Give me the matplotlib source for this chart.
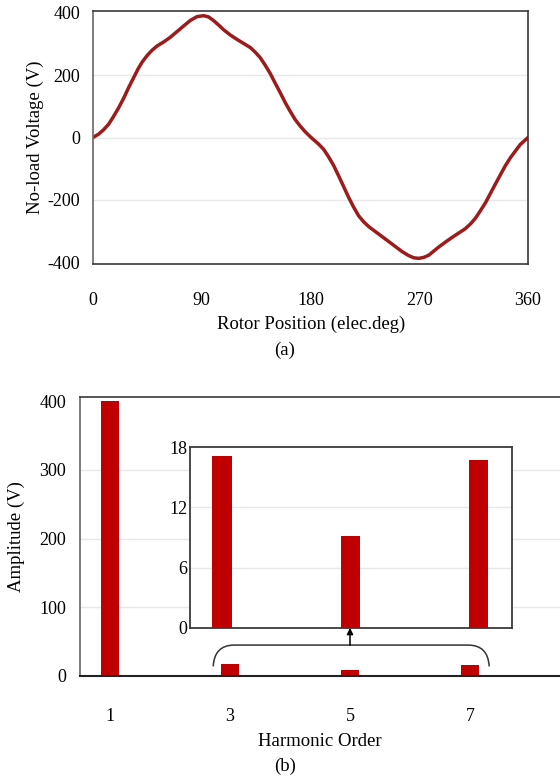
import matplotlib
matplotlib.use("Agg")
import matplotlib.pyplot as plt
from matplotlib.path import Path
from matplotlib.patches import PathPatch

plt.rcParams["font.family"] = ["Liberation Serif", "DejaVu Serif"]
plt.rcParams["font.size"] = 13
plt.rcParams["axes.unicode_minus"] = False

# (a) no-load voltage waveform
rotor_deg = [0, 4.7, 8.8, 13.0, 17.1, 21.2, 25.4, 29.5, 33.7, 37.2, 40.6,
             44.7, 48.8, 53.0, 58.5, 64.0, 69.5, 75.0, 80.6, 86.1, 91.6,
             95.7, 99.9, 104.0, 108.1, 113.7, 119.2, 124.7, 130.2, 134.3,
             138.5, 142.6, 146.8, 150.9, 155.0, 159.2, 163.3, 167.4, 171.6,
             175.7, 180.5,
             186.7, 190.9, 195.0, 199.2, 203.3, 207.4, 211.6, 215.7, 219.9,
             224.0, 228.1, 233.6, 239.2, 244.7, 250.2, 255.7, 261.2, 265.4,
             269.5, 273.6, 277.8, 281.9, 286.0, 291.6, 297.1, 302.6, 308.1,
             312.3, 316.4, 320.5, 324.8, 328.9, 333.0, 337.2, 341.3, 345.4,
             349.6, 353.7, 360]
voltage = [0, 11, 25, 43, 68, 95, 126, 160, 192, 219, 241,
           262, 279, 293, 306, 321, 339, 357, 375, 387, 390,
           386, 374, 360, 345, 328, 314, 301, 288, 273,
           255, 231, 204, 173, 143, 111, 83, 57, 36,
           18, 0,
           -21, -38, -62, -90, -123, -157, -192, -223, -251,
           -270, -285, -301, -317, -333, -349, -365, -378, -385,
           -387, -384, -377, -364, -351, -335, -320, -306, -292,
           -277, -259, -235, -209, -179, -149, -119, -90, -65,
           -43, -22, 0]
volt_ticks = [-400, -200, 0, 200, 400]
deg_ticks = [0, 90, 180, 270, 360]

# (b) harmonic amplitudes
orders = [1, 3, 5, 7]
amplitude = [400, 17.1, 9.1, 16.7]
amp_ticks = [0, 100, 200, 300, 400]
inset_orders = [3, 5, 7]
inset_amplitude = [17.1, 9.1, 16.7]
inset_ticks = [0, 6, 12, 18]

LINE = "#9e1b1b"
BAR = "#c00000"
GRID = "#e8e8e8"
SPINE = "#3a3a3a"

fig = plt.figure(figsize=(5.6, 7.76), dpi=100)

# ---- top panel ----
ax1 = fig.add_axes([93 / 560, 1 - 264 / 776, 435 / 560, 253 / 776])
for v in volt_ticks[1:-1]:
    ax1.axhline(v, color=GRID, lw=1, zorder=0)
ax1.plot(rotor_deg, voltage, color=LINE, lw=2.5,
         solid_joinstyle="round", solid_capstyle="round")
ax1.set_xlim(0, 360)
ax1.set_ylim(-405, 405)
ax1.set_xticks(deg_ticks)
ax1.set_yticks(volt_ticks)
ax1.tick_params(axis="x", length=0, pad=20)
ax1.tick_params(axis="y", length=0, pad=9)
for s in ax1.spines.values():
    s.set_color(SPINE)
    s.set_linewidth(1.2)
ax1.spines["left"].set_color("#666666")
ax1.set_ylabel("No-load Voltage (V)", fontsize=13.5)
ax1.yaxis.set_label_coords(-0.113, 0.5)
fig.text(311 / 560, 1 - 324 / 776, "Rotor Position (elec.deg)", ha="center",
         va="center", fontsize=13.5)
fig.text(285 / 560, 1 - 350 / 776, "(a)", ha="center", va="center", fontsize=13.5)

# ---- bottom panel ----
ax2 = fig.add_axes([80 / 560, 1 - 676 / 776, 480 / 560, 279 / 776])
for v in amp_ticks[1:-1]:
    ax2.axhline(v, color=GRID, lw=1, zorder=0)
ax2.bar(orders, amplitude, width=0.3, color=BAR, zorder=2)
ax2.set_xlim(0.5, 8.5)
ax2.set_ylim(0, 406)
ax2.set_xticks(orders)
ax2.set_yticks(amp_ticks)
ax2.tick_params(axis="x", length=0, pad=23)
ax2.tick_params(axis="y", length=0, pad=10)
ax2.spines["right"].set_visible(False)
ax2.spines["top"].set_color(SPINE)
ax2.spines["top"].set_linewidth(1.2)
ax2.spines["left"].set_color("#666666")
ax2.spines["left"].set_linewidth(1.2)
ax2.spines["bottom"].set_color("#222222")
ax2.spines["bottom"].set_linewidth(1.5)
ax2.set_ylabel("Amplitude (V)", fontsize=13.5)
ax2.yaxis.set_label_coords(-0.115, 0.5)
fig.text(320 / 560, 1 - 742 / 776, "Harmonic Order", ha="center", va="center",
         fontsize=13.5)
fig.text(285 / 560, 1 - 766 / 776, "(b)", ha="center", va="center", fontsize=13.5)

# brace over the small harmonics, with arrow up to the zoomed inset
xl = inset_orders[0] - 0.28
xr = inset_orders[-1] + 0.32
y_end, y_top = 14, 45
verts = [(xl, y_end), (xl + 0.02, y_top), (xl + 0.35, y_top),
         (xr - 0.35, y_top),
         (xr - 0.02, y_top), (xr, y_end)]
codes = [Path.MOVETO, Path.CURVE3, Path.CURVE3, Path.LINETO,
         Path.CURVE3, Path.CURVE3]
ax2.add_patch(PathPatch(Path(verts, codes), fill=False, ec="#333333", lw=1.1, zorder=3))
ax2.annotate("", xy=(inset_orders[1], 70), xytext=(inset_orders[1], y_top),
             arrowprops=dict(arrowstyle="-|>", color="black", lw=1.1,
                             mutation_scale=9, shrinkA=0, shrinkB=0), zorder=3)

# inset
ax3 = fig.add_axes([190 / 560, 1 - 628 / 776, 322 / 560, 181 / 776])
for v in inset_ticks[1:-1]:
    ax3.axhline(v, color=GRID, lw=1, zorder=0)
ax3.bar(inset_orders, inset_amplitude, width=0.3, color=BAR, zorder=2)
ax3.set_xlim(2.5, 7.52)
ax3.set_ylim(0, 18)
ax3.set_xticks([])
ax3.set_yticks(inset_ticks)
ax3.tick_params(axis="y", length=0, pad=2)
for s in ax3.spines.values():
    s.set_color(SPINE)
    s.set_linewidth(1.3)

fig.savefig("out.png", dpi=100)
